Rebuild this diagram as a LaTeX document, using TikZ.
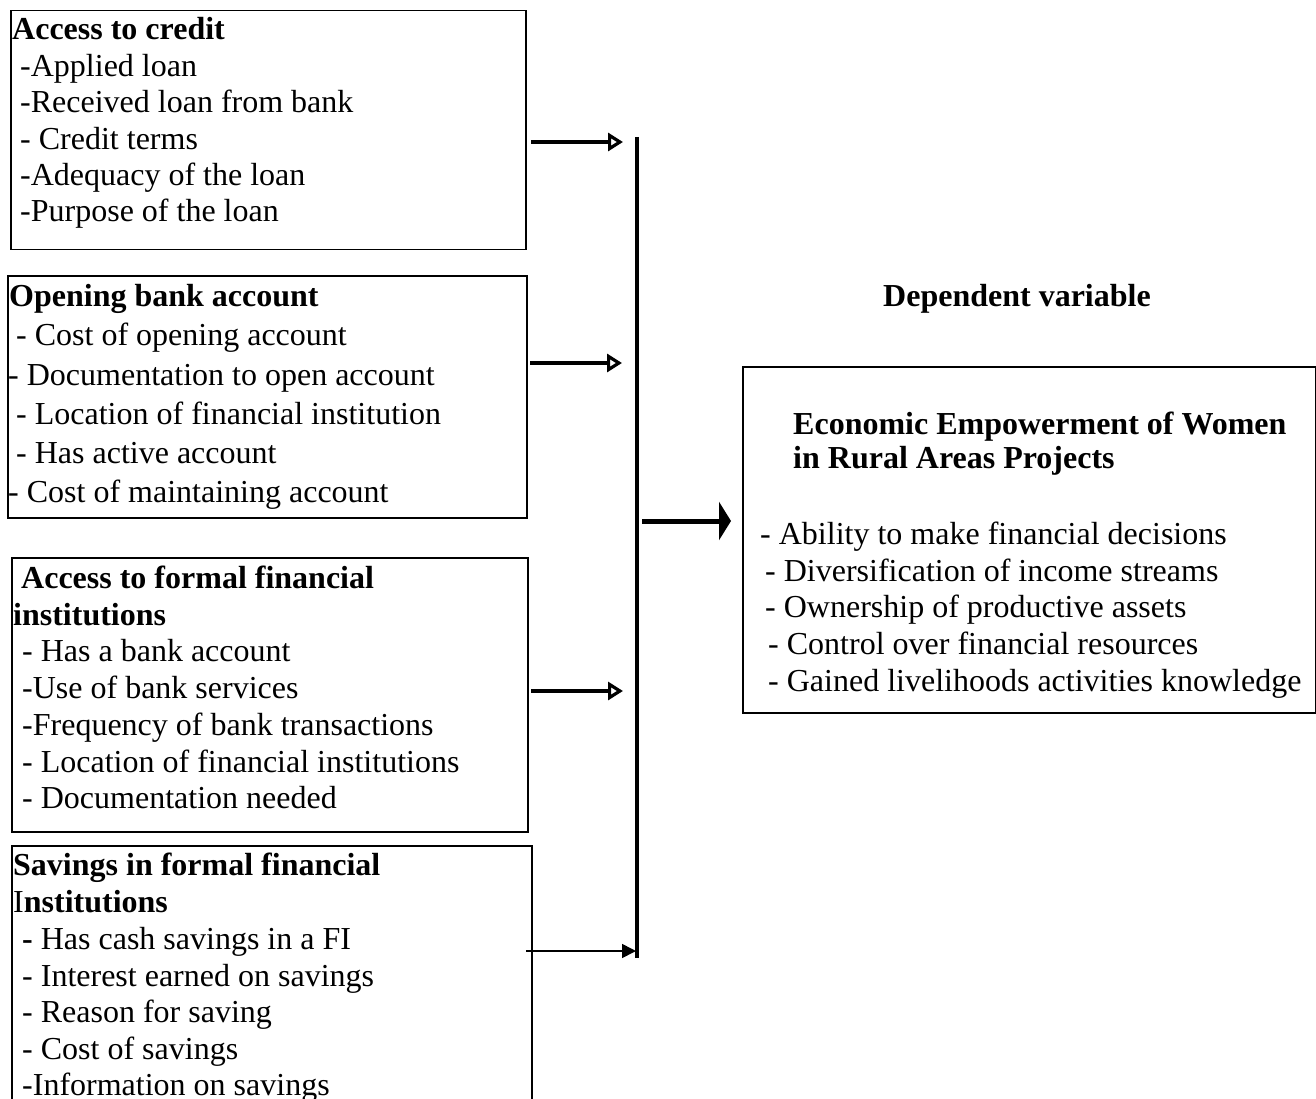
\documentclass[tikz,border=0pt]{standalone}
\usepackage{fontspec}
\setmainfont{Liberation Serif}
\usetikzlibrary{arrows.meta}
\tikzset{
  box/.style={draw=black, line width=1.5pt, rectangle, inner sep=0pt, anchor=north west},
  txt/.style={anchor=base west, inner sep=0pt, font=\fontsize{32pt}{38pt}\selectfont},
  openarrow/.style={line width=4pt, -{Triangle[open, length=15pt, width=18pt, line width=3.2pt]}},
  thinarrow/.style={line width=1.6pt, -{Triangle[length=14pt, width=14pt]}},
  bigarrow/.style={line width=5pt, -{Triangle[length=12pt, width=38pt]}},
  barline/.style={line width=3.5pt}
}
\begin{document}
\begin{tikzpicture}[x=1pt, y=1pt]
\useasboundingbox (0,0) rectangle (1316,-1099);
\clip (0,0) rectangle (1316,-1099);
\fill[white] (0,0) rectangle (1316,-1099);

% boxes
\node[box, minimum width=515pt, minimum height=239pt] (b1) at (10,-10) {};
\node[box, minimum width=519pt, minimum height=242pt] (b2) at (7,-275) {};
\node[box, minimum width=516pt, minimum height=274pt] (b3) at (11,-557) {};
\node[box, minimum width=520pt, minimum height=280pt] (b4) at (11,-845) {};
\node[box, minimum width=573pt, minimum height=346pt] (dv) at (742,-366) {};

% box 1
\node[txt] (b1t) at (12,-40) {\textbf{Access to credit}};
\node[txt] (b1a) at (20,-77) {-Applied loan};
\node[txt] (b1b) at (20,-113) {-Received loan from bank};
\node[txt] (b1c) at (20,-150) {- Credit terms};
\node[txt] (b1d) at (20,-186) {-Adequacy of the loan};
\node[txt] (b1e) at (20,-222) {-Purpose of the loan};

% box 2
\node[txt] (b2t) at (9,-306) {\textbf{Opening bank account}};
\node[txt] (b2a) at (16,-345) {- Cost of opening account};
\node[txt] (b2b) at (8,-385) {- Documentation to open account};
\node[txt] (b2c) at (16,-424) {- Location of financial institution};
\node[txt] (b2d) at (16,-463) {- Has active account};
\node[txt] (b2e) at (8,-502) {- Cost of maintaining account};

% box 3
\node[txt] (b3t) at (21,-588) {\textbf{Access to formal financial}};
\node[txt] (b3u) at (13,-625) {\textbf{institutions}};
\node[txt] (b3a) at (22,-661) {- Has a bank account};
\node[txt] (b3b) at (22,-698) {-Use of bank services};
\node[txt] (b3c) at (22,-735) {-Frequency of bank transactions};
\node[txt] (b3d) at (22,-772) {- Location of financial institutions};
\node[txt] (b3e) at (22,-808) {- Documentation needed};

% box 4
\node[txt] (b4t) at (13,-875) {\textbf{Savings in formal financial}};
\node[txt] (b4u) at (13,-912) {I\textbf{nstitutions}};
\node[txt] (b4a) at (22,-949) {\textbf{-} Has cash savings in a FI};
\node[txt] (b4b) at (22,-986) {- Interest earned on savings};
\node[txt] (b4c) at (22,-1022) {- Reason for saving};
\node[txt] (b4d) at (22,-1059) {- Cost of savings};
\node[txt] (b4e) at (22,-1095) {-Information on savings};

% dependent variable
\node[txt] (dvh) at (883,-306) {\textbf{Dependent variable}};
\node[txt] (dvt) at (793,-434) {\textbf{Economic Empowerment of Women}};
\node[txt] (dvu) at (793,-468) {\textbf{in Rural Areas Projects}};
\node[txt] (dva) at (760,-544) {- Ability to make financial decisions};
\node[txt] (dvb) at (765,-581) {- Diversification of income streams};
\node[txt] (dvc) at (765,-617) {- Ownership of productive assets};
\node[txt] (dvd) at (768,-654) {- Control over financial resources};
\node[txt] (dve) at (768,-691) {- Gained livelihoods activities knowledge};

% connectors
\coordinate (vtop) at (637,-137);
\coordinate (vbot) at (637,-958);
\draw[barline] (vtop) -- (vbot);

\coordinate (a1s) at (531,-142);
\coordinate (a1e) at (623,-142);
\coordinate (a2s) at (530,-363);
\coordinate (a2e) at (622,-363);
\coordinate (a3s) at (531,-691);
\coordinate (a3e) at (623,-691);
\coordinate (a4s) at (526,-951);
\coordinate (a4e) at (636,-951);
\coordinate (a5s) at (642,-521);
\coordinate (a5e) at (731,-521);

\draw[openarrow] (a1s) -- (a1e);
\draw[openarrow] (a2s) -- (a2e);
\draw[openarrow] (a3s) -- (a3e);
\draw[thinarrow] (a4s) -- (a4e);
\draw[bigarrow] (a5s) -- (a5e);
\end{tikzpicture}
\end{document}
